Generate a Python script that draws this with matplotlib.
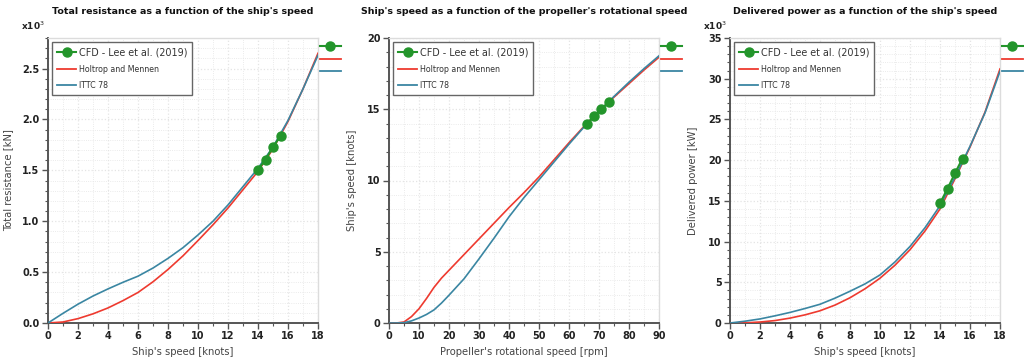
import matplotlib
matplotlib.use("Agg")
import matplotlib.pyplot as plt
from matplotlib.lines import Line2D
from matplotlib.ticker import MultipleLocator, FormatStrFormatter

plt.rcParams['font.family'] = ['DejaVu Sans']

# ---------------- data ----------------
speed_knots = [0, 1, 2, 3, 4, 5, 6, 7, 8, 9, 10, 11, 12, 13, 14, 15, 16, 17, 18]

# Total resistance (x10^3 kN)
res_holtrop = [0, 0.01, 0.043, 0.09, 0.148, 0.22, 0.30, 0.405, 0.526, 0.66, 0.81,
               0.965, 1.13, 1.31, 1.49, 1.71, 1.98, 2.30, 2.65]
res_ittc = [0, 0.095, 0.185, 0.265, 0.335, 0.40, 0.46, 0.54, 0.635, 0.74, 0.865,
            1.0, 1.16, 1.34, 1.52, 1.73, 1.99, 2.30, 2.63]

cfd_speed = [14.0, 14.5, 15.0, 15.5]
cfd_resistance = [1.505, 1.606, 1.728, 1.838]

# Ship's speed vs propeller rotational speed
rpm = [0, 2.5, 5, 7.5, 10, 12.5, 15, 17.5, 20, 25, 30, 35, 40, 45, 50,
       55, 60, 65, 70, 75, 80, 85, 90]
speed_holtrop = [0, 0, 0.07, 0.45, 1.0, 1.72, 2.5, 3.15, 3.7, 4.8, 5.9, 7.0, 8.1,
                 9.15, 10.25, 11.45, 12.65, 13.8, 14.85, 15.85, 16.8, 17.75, 18.65]
speed_ittc = [0, 0, 0.02, 0.15, 0.35, 0.6, 0.92, 1.4, 1.95, 3.1, 4.5, 5.95, 7.45,
              8.8, 10.05, 11.3, 12.55, 13.75, 14.85, 15.9, 16.9, 17.85, 18.75]

cfd_rpm = [65.9, 68.4, 70.8, 73.2]
cfd_ship_speed = [14.0, 14.5, 15.0, 15.5]

# Delivered power (x10^3 kW)
power_holtrop = [0, 0.02, 0.12, 0.3, 0.6, 1.0, 1.5, 2.2, 3.1, 4.2, 5.5, 7.1, 9.0,
                 11.3, 14.0, 17.7, 21.6, 25.9, 31.2]
power_ittc = [0, 0.22, 0.5, 0.88, 1.3, 1.78, 2.3, 3.05, 3.9, 4.8, 5.9, 7.5, 9.4,
              11.7, 14.4, 17.9, 21.7, 25.8, 30.9]
cfd_power = [14.7, 16.5, 18.4, 20.2]

labels = ["CFD - Lee et al. (2019)", "Holtrop and Mennen", "ITTC 78"]
titles = ["Total resistance as a function of the ship's speed",
          "Ship's speed as a function of the propeller's rotational speed",
          "Delivered power as a function of the ship's speed"]
xlabels = ["Ship's speed [knots]", "Propeller's rotational speed [rpm]", "Ship's speed [knots]"]
ylabels = ["Total resistance [kN]", "Ship's speed [knots]", "Delivered power [kW]"]

RED = '#ee3a2f'
BLUE = '#3a86a2'
GREEN = '#23952b'
DARK = '#555555'
LIGHT = '#dcdcdc'
GRID = '#e4e4e4'

fig = plt.figure(figsize=(10.24, 3.6), dpi=100)
lefts = [48 / 1024, 389 / 1024, 730 / 1024]
w = 270 / 1024
b = 1 - 323 / 360
h = (323 - 38) / 360

panels = [
    (speed_knots, res_holtrop, res_ittc, cfd_speed, cfd_resistance, (0, 18), (0, 2.8), 2, 1, 0.5, 0.1, '%.1f', True),
    (rpm, speed_holtrop, speed_ittc, cfd_rpm, cfd_ship_speed, (0, 90), (0, 20), 10, 5, 5, 1, '%d', False),
    (speed_knots, power_holtrop, power_ittc, cfd_speed, cfd_power, (0, 18), (0, 35), 2, 1, 5, 1, '%d', True),
]

for i, (x, yh, yi, cx, cy, xl, yl, xmaj, xmin, ymaj, ymin, yfmt, mult) in enumerate(panels):
    ax = fig.add_axes([lefts[i], b, w, h])
    ax.plot(x, yh, color=RED, lw=1.2, zorder=3)
    ax.plot(x, yi, color=BLUE, lw=1.2, zorder=3)
    ax.plot(cx, cy, color=GREEN, lw=1.5, marker='o', ms=6.5, zorder=4)
    ax.set_xlim(*xl)
    ax.set_ylim(*yl)
    ax.xaxis.set_major_locator(MultipleLocator(xmaj))
    ax.xaxis.set_minor_locator(MultipleLocator(xmin))
    ax.yaxis.set_major_locator(MultipleLocator(ymaj))
    ax.yaxis.set_minor_locator(MultipleLocator(ymin))
    ax.yaxis.set_major_formatter(FormatStrFormatter(yfmt))
    ax.grid(True, which='major', color=GRID, ls=':', lw=0.9, zorder=0)
    ax.grid(True, which='minor', color=GRID, ls=':', lw=0.6, zorder=0)
    ax.set_axisbelow(True)
    for s in ['left', 'bottom']:
        ax.spines[s].set_color(DARK)
        ax.spines[s].set_linewidth(1.4)
    for s in ['top', 'right']:
        ax.spines[s].set_color(LIGHT)
        ax.spines[s].set_linewidth(1.0)
    ax.tick_params(which='major', direction='out', length=4, width=1, color=DARK,
                   labelsize=7, labelcolor='#222222', pad=2)
    ax.tick_params(which='minor', direction='out', length=2.5, width=0.8, color=DARK)
    for lab in ax.get_xticklabels() + ax.get_yticklabels():
        lab.set_fontweight('bold')
    ax.set_title(titles[i], fontsize=6.8, fontweight='bold', pad=17, color='#111111')
    ax.set_xlabel(xlabels[i], fontsize=7.2, color='#444444', labelpad=4)
    ax.set_ylabel(ylabels[i], fontsize=7.2, color='#444444', labelpad=7)
    if mult:
        ax.annotate(r'x10$^{3}$', xy=(0, 1), xycoords='axes fraction',
                    xytext=(-2, 4), textcoords='offset points', ha='right', va='bottom',
                    fontsize=6.5, fontweight='bold', color='#222222')

    handles = [Line2D([], [], color=GREEN, lw=1.5, marker='o', ms=6.5),
               Line2D([], [], color=RED, lw=1.3),
               Line2D([], [], color=BLUE, lw=1.3)]
    leg = ax.legend(handles, labels, loc='upper left', bbox_to_anchor=(0.01, 0.99),
                    frameon=True, fancybox=False, edgecolor='#666666', framealpha=1,
                    fontsize=5.7, handlelength=2.4, handletextpad=0.4, borderpad=0.6,
                    labelspacing=0.95, borderaxespad=0.2)
    leg.get_frame().set_linewidth(1.0)
    texts = leg.get_texts()
    texts[0].set_fontsize(6.9)
    for t in texts:
        t.set_color('#333333')
    ax.add_artist(leg)
    h2 = [Line2D([], [], color=GREEN, lw=1.5, marker='o', ms=6.5),
          Line2D([], [], color=RED, lw=1.3),
          Line2D([], [], color=BLUE, lw=1.3)]
    ax.legend(h2, ['', '', ''], loc='upper left', bbox_to_anchor=(1.006, 0.985),
              frameon=False, handlelength=2.6, handletextpad=0, borderpad=0,
              labelspacing=0.4, fontsize=6, borderaxespad=0)

fig.savefig('out.png', dpi=100, facecolor='white')
